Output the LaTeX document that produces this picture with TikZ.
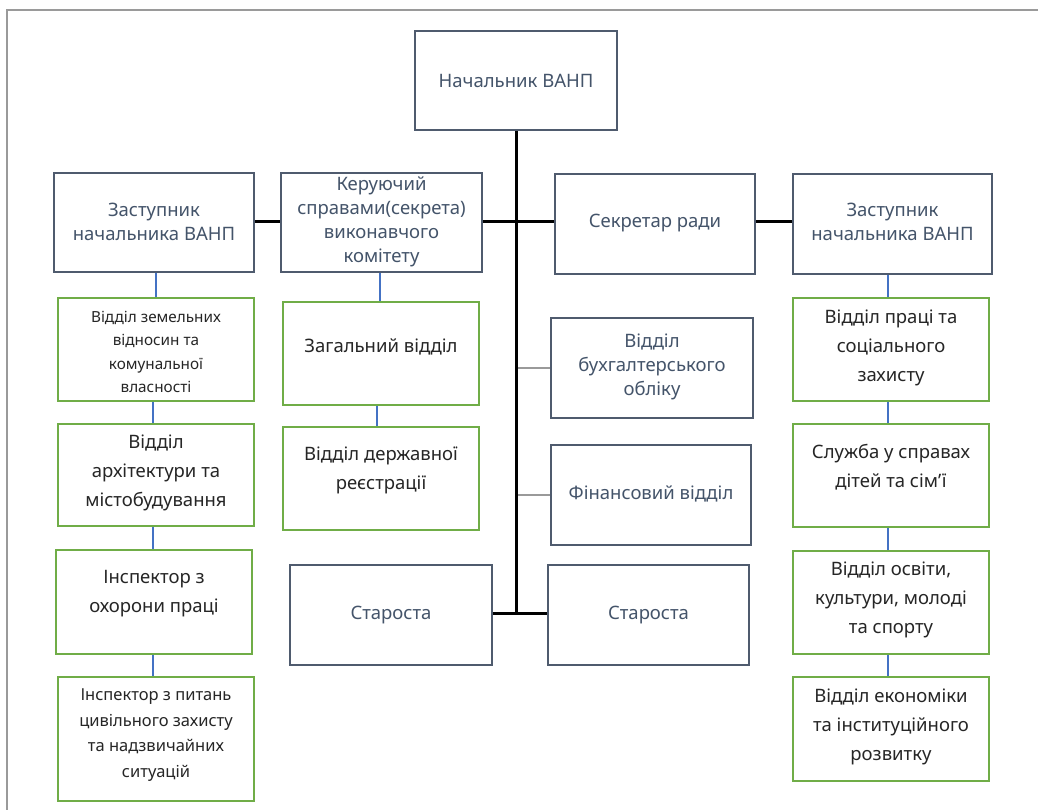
\documentclass[tikz,border=0pt]{standalone}
\usepackage{fontspec}
\setmainfont{Noto Sans}
\definecolor{boxgray}{HTML}{4F5B6E}
\definecolor{txtgray}{HTML}{44546A}
\definecolor{grn}{HTML}{70AD47}
\definecolor{blu}{HTML}{4472C4}
\definecolor{frm}{HTML}{9A9A9A}
\definecolor{conngray}{HTML}{9A9A9A}
\definecolor{dark}{HTML}{262626}
\begin{document}
\begin{tikzpicture}[x=1pt,y=-1pt,
  bbox/.style={draw=boxgray,line width=1.6pt,fill=white,inner sep=0pt},
  gbox/.style={draw=grn,line width=1.6pt,fill=white,inner sep=0pt},
  btxt/.style={align=center,text=txtgray,font=\fontsize{18.5}{24}\selectfont,inner sep=0pt},
  gtxt/.style={align=center,text=dark,font=\fontsize{18.5}{29}\selectfont,inner sep=0pt},
  stxt/.style={align=center,text=dark,font=\fontsize{15.3}{23.5}\selectfont,inner sep=0pt},
  thick conn/.style={draw=black,line width=3pt},
  blue conn/.style={draw=blu,line width=1.4pt},
  gray conn/.style={draw=conngray,line width=2pt}]
\useasboundingbox (0,0) rectangle (1038,809);
\draw[frm,line width=1.5pt] (7,812) -- (7,10) -- (1041,10);

% boxes
\node[bbox,minimum width=202,minimum height=99] (nach) at (516,80.5) {};
\node[bbox,minimum width=200,minimum height=99] (zl) at (154,222.5) {};
\node[bbox,minimum width=201,minimum height=99] (ker) at (381.5,222.5) {};
\node[bbox,minimum width=200,minimum height=100] (sec) at (655,224) {};
\node[bbox,minimum width=199,minimum height=100] (zr) at (892.5,224) {};
\node[bbox,minimum width=202,minimum height=100] (buh) at (652,368) {};
\node[bbox,minimum width=200,minimum height=100] (fin) at (651,495) {};
\node[bbox,minimum width=202,minimum height=100] (st1) at (391,615) {};
\node[bbox,minimum width=201,minimum height=100] (st2) at (648.5,615) {};

\node[gbox,minimum width=196,minimum height=103] (zem) at (156,349.5) {};
\node[gbox,minimum width=196,minimum height=102] (arch) at (156,475) {};
\node[gbox,minimum width=196,minimum height=104] (insa) at (154,602) {};
\node[gbox,minimum width=196,minimum height=124] (insb) at (156,739) {};
\node[gbox,minimum width=196,minimum height=103] (zag) at (381,353.5) {};
\node[gbox,minimum width=196,minimum height=103] (derzh) at (381,478.5) {};
\node[gbox,minimum width=196,minimum height=103] (prac) at (891,349.5) {};
\node[gbox,minimum width=196,minimum height=103] (sluzh) at (891,475.5) {};
\node[gbox,minimum width=196,minimum height=103] (osv) at (891,602.5) {};
\node[gbox,minimum width=196,minimum height=104] (ekon) at (891,729) {};

% texts
\node[btxt] (nacht) at (516,80.5) {Начальник ВАНП};
\node[btxt] (zlt) at (154,222) {Заступник\\начальника ВАНП};
\node[btxt] (kert) at (381.5,221.5) {Керуючий\\справами(секрета)\\виконавчого\\комітету};
\node[btxt] (sect) at (655,223) {Секретар ради};
\node[btxt] (zrt) at (892.5,222) {Заступник\\начальника ВАНП};
\node[btxt] (buht) at (652,367) {Відділ\\бухгалтерського\\обліку};
\node[btxt] (fint) at (651,494) {Фінансовий відділ};
\node[btxt] (st1t) at (391,615) {Староста};
\node[btxt] (st2t) at (648.5,615) {Староста};

\node[stxt] (zemt) at (156,352) {Відділ земельних\\відносин та\\комунальної\\власності};
\node[gtxt] (archt) at (156,473) {Відділ\\архітектури та\\містобудування};
\node[gtxt] (insat) at (154,593.5) {Інспектор з\\охорони праці};
\node[stxt,font=\fontsize{16.5}{25.5}\selectfont] (insbt) at (156,735) {Інспектор з питань\\цивільного захисту\\та надзвичайних\\ситуацій};
\node[gtxt] (zagt) at (381,347) {Загальний відділ};
\node[gtxt] (derzht) at (381,470) {Відділ державної\\реєстрації};
\node[gtxt] (pract) at (891,348) {Відділ праці та\\соціального\\захисту};
\node[gtxt] (sluzht) at (891,467) {Служба у справах\\дітей та сім’ї};
\node[gtxt] (osvt) at (891,600) {Відділ освіти,\\культури, молоді\\та спорту};
\node[gtxt] (ekont) at (891,727) {Відділ економіки\\та інституційного\\розвитку};

% trunk and coordinates
\coordinate (tb) at (516,613);
\draw[gray conn] (buh.west) -- (buh.west -| nach.south);
\draw[gray conn] (fin.west) -- (fin.west -| nach.south);
\draw[thick conn] (nach.south) -- (tb);
\draw[thick conn] (zl.east |- 0,221) -- (ker.west |- 0,221);
\draw[thick conn] (ker.east |- 0,221) -- (nach.south |- 0,221) -- (sec.west |- 0,221);
\draw[thick conn] (sec.east |- 0,221) -- (zr.west |- 0,221);
\draw[thick conn] (st1.east |- tb) -- (tb) -- (st2.west |- tb);

% blue connectors
\draw[blue conn] (zl.south -| zem.north) -- (zem.north);
\draw[blue conn] (zem.south -| 153,0) -- (arch.north -| 153,0);
\draw[blue conn] (arch.south -| 153,0) -- (insa.north -| 153,0);
\draw[blue conn] (insa.south -| 153,0) -- (insb.north -| 153,0);
\draw[blue conn] (ker.south -| 380,0) -- (zag.north -| 380,0);
\draw[blue conn] (zag.south -| 377,0) -- (derzh.north -| 377,0);
\draw[blue conn] (zr.south -| 888,0) -- (prac.north -| 888,0);
\draw[blue conn] (prac.south -| 888,0) -- (sluzh.north -| 888,0);
\draw[blue conn] (sluzh.south -| 888,0) -- (osv.north -| 888,0);
\draw[blue conn] (osv.south -| 888,0) -- (ekon.north -| 888,0);
\end{tikzpicture}
\end{document}
